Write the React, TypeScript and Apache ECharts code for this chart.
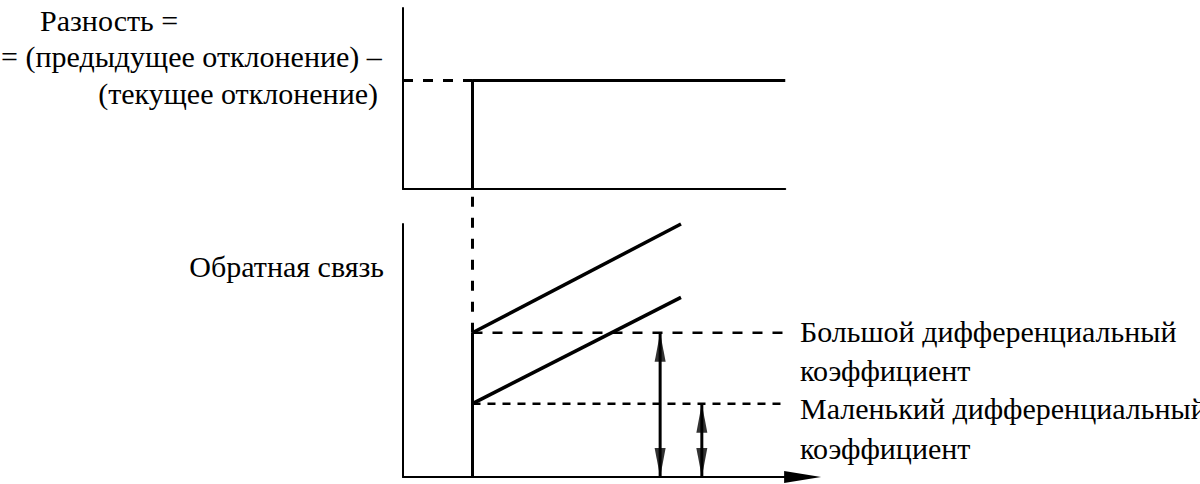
import React, { useEffect, useRef } from "react";
import * as echarts from "echarts";

// ---- data (abstract units) ----
// top panel: difference signal, a step at t = 20 to level 60
const diffStep: number[][] = [[20, 0], [20, 60], [110, 60]];
const diffGuide: number[][] = [[0, 60], [20, 60]];
// bottom panel: feedback
const feedbackRise: number[][] = [[20, 0], [20, 57]];
const feedbackLarge: number[][] = [[20, 57], [80, 100]];
const feedbackSmall: number[][] = [[20, 29], [80, 71]];
const largeLevelGuide: number[][] = [[20, 57], [110, 57]];
const smallLevelGuide: number[][] = [[20, 29], [110, 29]];
const stepConnector: number[][] = [[20, 57], [20, 114]];
// double arrows: [x, from, to]
const gainArrows: number[][] = [[74, 0, 57], [86, 0, 29]];

// texts
const diffLabel = ["Разность =", "= (предыдущее отклонение) –", "(текущее отклонение)"];
const feedbackLabel = "Обратная связь";
const largeLabel = ["Большой дифференциальный", "коэффициент"];
const smallLabel = ["Маленький дифференциальный", "коэффициент"];

const FAMILY = "Liberation Serif";
const BLACK = "#000";

function lineSeries(data: number[][], idx: number, width: number, dashed?: number[]) {
  return {
    type: "line",
    xAxisIndex: idx,
    yAxisIndex: idx,
    data,
    symbol: "none",
    clip: false,
    silent: true,
    lineStyle: {
      color: BLACK,
      width,
      type: dashed ? dashed : "solid",
    },
  };
}

// plain graphic text; (x, y) is the top-left (or top-right) of a 30px line box
function txt(text: string, x: number, cy: number) {
  return {
    type: "text",
    x,
    y: cy - 17,
    style: { text, fontFamily: FAMILY, fontSize: 30, fill: BLACK },
  };
}

export default function App() {
  const ref = useRef<HTMLDivElement>(null);
  const textRef = useRef<HTMLDivElement>(null);
  useEffect(() => {
    if (!ref.current || !textRef.current) return;
    const chart = echarts.init(ref.current, undefined, { renderer: "svg" });
    const texts = echarts.init(textRef.current, undefined, { renderer: "svg" });
    const axisCommon = {
      type: "value",
      axisTick: { show: false },
      axisLabel: { show: false },
      splitLine: { show: false },
    };
    const shafts = gainArrows.map((a) => lineSeries([[a[0], a[1]], [a[0], a[2]]], 1, 3));
    const headsUp = gainArrows.map((a) => [a[0], a[2]]);
    const headsDown = gainArrows.map((a) => [a[0], a[1]]);
    chart.setOption({
      animation: false,
      backgroundColor: "#fff",
      grid: [
        { left: 403, top: 8, width: 382.25, height: 181 },
        { left: 403, top: 224, width: 399.6, height: 253 },
      ],
      xAxis: [
        {
          ...axisCommon,
          gridIndex: 0,
          min: 0,
          max: 110,
          axisLine: { show: true, onZero: false, lineStyle: { color: BLACK, width: 2 } },
        },
        {
          ...axisCommon,
          gridIndex: 1,
          min: 0,
          max: 115,
          axisLine: {
            show: true,
            onZero: false,
            symbol: ["none", "triangle"],
            symbolSize: [12, 37],
            lineStyle: { color: BLACK, width: 2 },
          },
        },
      ],
      yAxis: [
        {
          ...axisCommon,
          gridIndex: 0,
          min: 0,
          max: 100,
          axisLine: { show: true, onZero: false, lineStyle: { color: BLACK, width: 2 } },
        },
        {
          ...axisCommon,
          gridIndex: 1,
          min: 0,
          max: 100,
          axisLine: { show: true, onZero: false, lineStyle: { color: BLACK, width: 2 } },
        },
      ],
      series: [
        lineSeries(diffGuide, 0, 3, [10, 10]),
        lineSeries(diffStep, 0, 3),
        lineSeries(stepConnector, 1, 3, [10, 11]),
        lineSeries(largeLevelGuide, 1, 2.5, [10, 10]),
        lineSeries(smallLevelGuide, 1, 2.5, [8, 7]),
        lineSeries(feedbackRise, 1, 3),
        lineSeries(feedbackLarge, 1, 3.5),
        lineSeries(feedbackSmall, 1, 3.5),
        ...shafts,
        {
          type: "scatter",
          xAxisIndex: 1,
          yAxisIndex: 1,
          data: headsUp,
          silent: true,
          symbol: "triangle",
          symbolSize: [11, 29],
          symbolOffset: [0, "50%"],
          itemStyle: { color: BLACK },
          z: 5,
        },
        {
          type: "scatter",
          xAxisIndex: 1,
          yAxisIndex: 1,
          data: headsDown,
          silent: true,
          symbol: "triangle",
          symbolSize: [11, 29],
          symbolRotate: 180,
          symbolOffset: [0, "-50%"],
          itemStyle: { color: BLACK },
          z: 5,
        },
      ],
    } as any);
    texts.setOption({
      animation: false,
      graphic: [
        txt(diffLabel[0], 40, 22),
        txt(diffLabel[1], 1, 58),
        { ...txt(diffLabel[2], 378, 95), style: { text: diffLabel[2], fontFamily: FAMILY, fontSize: 30, fill: BLACK, align: "right" } },
        { ...txt(feedbackLabel, 384, 268), style: { text: feedbackLabel, fontFamily: FAMILY, fontSize: 30, fill: BLACK, align: "right" } },
        txt(largeLabel[0], 800, 333),
        txt(largeLabel[1], 800, 372),
        txt(smallLabel[0], 800, 410),
        txt(smallLabel[1], 800, 450),
      ],
    } as any);
    return () => {
      chart.dispose();
      texts.dispose();
    };
  }, []);
  return (
    <div style={{ position: "fixed", left: 0, top: 0, width: 1200, height: 484, background: "#fff" }}>
      <div ref={ref} style={{ position: "absolute", left: 0, top: 0, width: 1200, height: 484 }} />
      <div
        ref={textRef}
        style={{ position: "absolute", left: 0, top: 0, width: 1200, height: 484, pointerEvents: "none" }}
      />
    </div>
  );
}
